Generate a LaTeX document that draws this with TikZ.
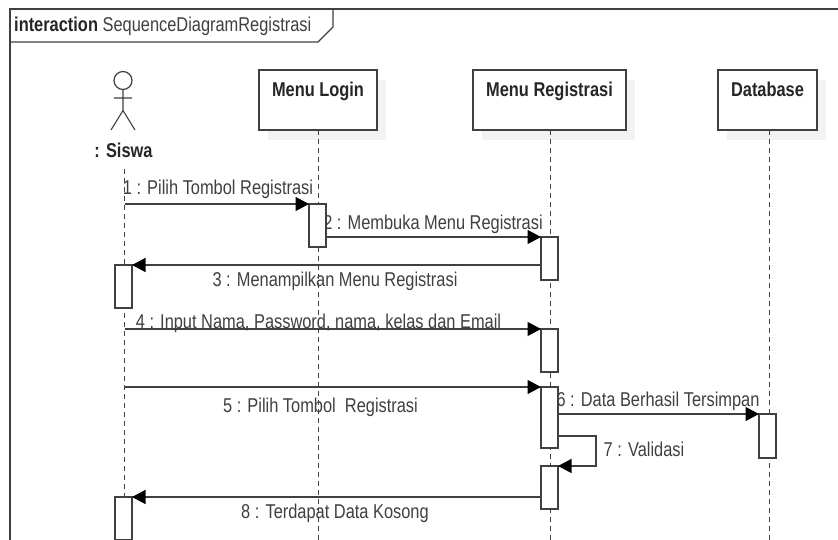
\documentclass[tikz,border=0pt]{standalone}
\usepackage{fontspec}
\setmainfont[FakeStretch=0.82]{Liberation Sans}
\usetikzlibrary{arrows.meta}
\definecolor{ln}{HTML}{404040}
\definecolor{txt}{HTML}{404040}
\definecolor{shd}{HTML}{F2F2F2}
\tikzset{
  x=1pt,y=-1pt,
  ln/.style={draw=ln,line width=1.2pt},
  objbox/.style={ln,fill=white,minimum height=60pt,inner sep=0pt,outer sep=0pt,anchor=north west},
  objshadow/.style={fill=shd,draw=none,minimum height=60pt,inner sep=0pt,anchor=north west},
  objtext/.style={font=\fontsize{20}{22}\selectfont\bfseries,text=black!85,inner sep=0pt,anchor=base},
  msgtext/.style={font=\fontsize{20}{22}\selectfont,text=txt,inner sep=0pt,anchor=base},
  activ/.style={ln,fill=white,minimum width=17pt,inner sep=0pt,outer sep=0pt,anchor=north west},
  life/.style={draw=ln,line width=1.2pt,dash pattern=on 5pt off 4pt},
  msg/.style={ln,-{Triangle[length=13.5pt,width=14pt,color=black]}},
}
\begin{document}
\begin{tikzpicture}
\useasboundingbox (0,0) rectangle (838,540);
\clip (0,0) rectangle (838,540);
\fill[white] (0,0) rectangle (838,540);
% frame
\draw[ln] (10,540) -- (10,9) -- (838,9);
\draw[ln] (10,42) -- (318,42) -- (333,27) -- (333,9);
\node[anchor=base west,inner sep=0pt,font=\fontsize{20}{22}\selectfont,text=txt] (ftitle) at (14,32) {{\bfseries\color{black!85}interaction} SequenceDiagramRegistrasi};
% shadows
\node[objshadow,minimum width=118pt] (s1) at (268,80) {};
\node[objshadow,minimum width=153pt] (s2) at (482,80) {};
\node[objshadow,minimum width=99pt] (s3) at (727,80) {};
% objects
\node[objbox,minimum width=118pt] (login) at (259,70) {};
\node[objbox,minimum width=153pt] (reg) at (473,70) {};
\node[objbox,minimum width=99pt] (db) at (718,70) {};
\node[objtext] (tlogin) at (318,96.7) {Menu Login};
\node[objtext] (treg) at (549.5,96.7) {Menu Registrasi};
\node[objtext] (tdb) at (767.5,96.7) {Database};
% actor
\node[circle,ln,minimum size=18pt,inner sep=0pt,outer sep=0pt] (head) at (123,80.5) {};
\coordinate (hip) at (123,110.5);
\coordinate (armL) at (114,98);
\coordinate (armR) at (132,98);
\coordinate (legL) at (111,130);
\coordinate (legR) at (135,130);
\draw[draw=ln,line width=1.1pt] (head.south) -- (hip) (armL) -- (armR) (legL) -- (hip) -- (legR);
\node[objtext] (actor) at (123.5,157.7) {: Siswa};
% lifelines
\coordinate (lsTop) at (124.5,169);
\coordinate (lsEnd) at (124.5,540);
\coordinate (llEnd) at (318.5,540);
\coordinate (lrEnd) at (550.5,540);
\coordinate (ldEnd) at (769.5,540);
\draw[life] (lsTop) -- (lsEnd);
\draw[life] (318.5,130) coordinate (llTop) -- (llEnd);
\draw[life] (550.5,130) coordinate (lrTop) -- (lrEnd);
\draw[life] (769.5,130) coordinate (ldTop) -- (ldEnd);
% labels
\node[msgtext] (t1) at (218,195) {1 : Pilih Tombol Registrasi};
\node[msgtext] (t2) at (433,229.3) {2 : Membuka Menu Registrasi};
\node[msgtext] (t3) at (335,286.7) {3 : Menampilkan Menu Registrasi};
\node[msgtext] (t4) at (318.5,328) {4 : Input Nama, Password, nama, kelas dan Email};
\node[msgtext] (t5) at (320.5,412.7) {5 : Pilih Tombol\ \ Registrasi};
\node[msgtext] (t6) at (658,406) {6 : Data Berhasil Tersimpan};
\node[msgtext] (t7) at (644,456) {7 : Validasi};
\node[msgtext] (t8) at (335,518) {8 : Terdapat Data Kosong};
% activations
\node[activ,minimum height=43pt] (a1) at (309,204) {};
\node[activ,minimum height=43pt] (a2) at (541,237) {};
\node[activ,minimum height=43pt] (a3) at (115,265) {};
\node[activ,minimum height=43pt] (a4) at (541,329) {};
\node[activ,minimum height=61pt] (a5) at (541,387) {};
\node[activ,minimum height=44pt] (a6) at (759,414) {};
\node[activ,minimum height=43pt] (a7) at (541,466) {};
\node[activ,minimum height=43pt] (a8) at (115,497) {};
% messages
\coordinate (m1) at (124.5,204);
\coordinate (m4) at (124.5,329);
\coordinate (m5) at (124.5,387);
\coordinate (m7a) at (596,436);
\draw[msg] (m1) -- (a1.north west);
\draw[msg] (a1.east |- a2.north) -- (a2.north west);
\draw[msg] (a2.west |- a3.north) -- (a3.north east);
\draw[msg] (m4) -- (a4.north west);
\draw[msg] (m5) -- (a5.north west);
\draw[msg] (a5.east |- a6.north) -- (a6.north west);
\draw[msg] (a5.east |- m7a) -- (m7a) -- (m7a |- a7.north) -- (a7.north east);
\draw[msg] (a7.west |- a8.north) -- (a8.north east);
\end{tikzpicture}
\end{document}
